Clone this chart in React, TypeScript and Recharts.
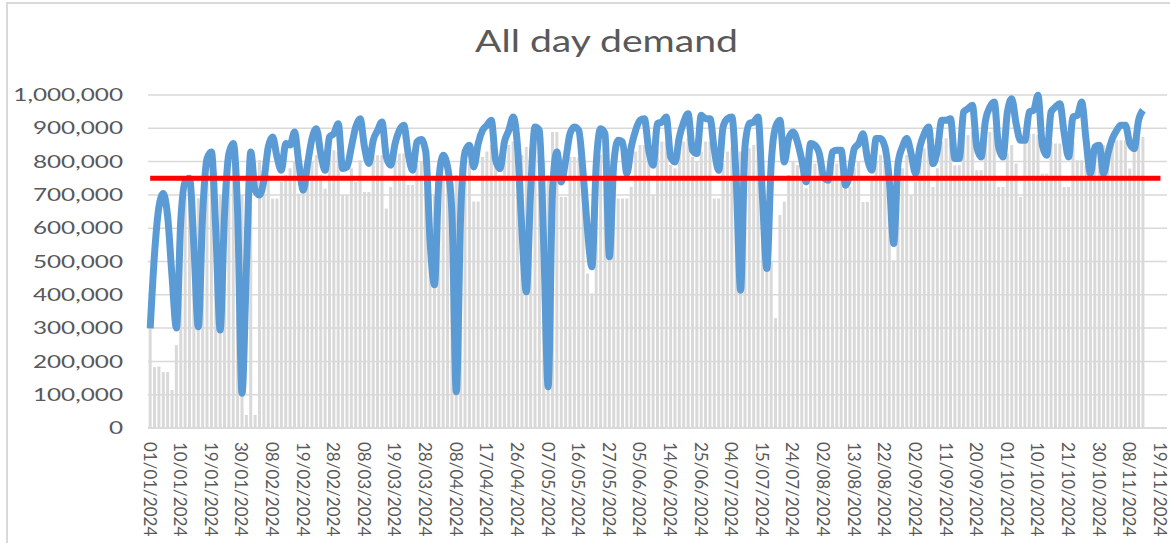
import { ComposedChart, Bar, Line, XAxis, YAxis, CartesianGrid, ReferenceLine } from 'recharts'

// daily totals (weekdays only), 01/01/2024 -> 13/11/2024
const allDayDemand = [
  299000, 524000, 664000, 704000, 634000, 454000, 300000, 624000, 740000, 750000,
  544000, 304000, 644000, 809000, 829000, 594000, 294000, 644000, 824000, 854000,
  644000, 104000, 480000, 829000, 714000, 700000, 744000, 844000, 874000, 814000,
  774000, 854000, 850000, 889000, 794000, 714000, 794000, 869000, 899000, 824000,
  774000, 874000, 884000, 914000, 779000, 784000, 844000, 904000, 929000, 844000,
  794000, 864000, 894000, 919000, 814000, 789000, 854000, 894000, 909000, 824000,
  774000, 859000, 866000, 830000, 560000, 430000, 744000, 819000, 784000, 644000,
  109000, 644000, 829000, 849000, 784000, 854000, 894000, 909000, 924000, 804000,
  779000, 859000, 894000, 934000, 844000, 594000, 409000, 714000, 904000, 894000,
  544000, 124000, 714000, 829000, 739000, 804000, 884000, 904000, 894000, 764000,
  594000, 484000, 794000, 899000, 884000, 514000, 794000, 864000, 859000, 764000,
  844000, 894000, 924000, 929000, 834000, 789000, 914000, 919000, 934000, 814000,
  799000, 874000, 919000, 944000, 834000, 824000, 939000, 929000, 929000, 834000,
  774000, 904000, 929000, 934000, 744000, 414000, 844000, 914000, 919000, 934000,
  694000, 479000, 794000, 904000, 924000, 799000, 869000, 889000, 859000, 804000,
  739000, 854000, 849000, 824000, 754000, 744000, 829000, 834000, 834000, 729000,
  764000, 839000, 854000, 884000, 809000, 774000, 869000, 869000, 844000, 744000,
  554000, 794000, 844000, 869000, 824000, 764000, 844000, 884000, 904000, 794000,
  834000, 924000, 924000, 929000, 809000, 809000, 949000, 959000, 969000, 844000,
  814000, 924000, 964000, 979000, 844000, 814000, 949000, 989000, 914000, 864000,
  864000, 949000, 954000, 999000, 849000, 819000, 949000, 964000, 974000, 884000,
  814000, 934000, 939000, 979000, 864000, 764000, 844000, 849000, 764000, 824000,
  869000, 894000, 909000, 909000, 854000, 839000, 924000, 954000,
]

const dayDemand = [
  300000, 183000, 185000, 168000, 168000, 114000, 249000, 650000, 700000, 720000,
  700000, 690000, 720000, 760000, 790000, 770000, 700000, 730000, 790000, 800000,
  760000, 700000, 39000, 669000, 39000, 804000, 740000, 760000, 689000, 689000,
  740000, 760000, 780000, 800000, 704000, 704000, 760000, 800000, 820000, 760000,
  719000, 834000, 834000, 830000, 699000, 699000, 780000, 739000, 804000, 709000,
  709000, 819000, 819000, 819000, 659000, 724000, 824000, 824000, 824000, 730000,
  730000, 790000, 800000, 780000, 699000, 699000, 720000, 760000, 760000, 740000,
  760000, 780000, 790000, 800000, 680000, 680000, 814000, 830000, 850000, 800000,
  760000, 820000, 850000, 860000, 800000, 820000, 844000, 844000, 860000, 840000,
  800000, 760000, 889000, 889000, 694000, 694000, 814000, 814000, 814000, 760000,
  464000, 404000, 700000, 820000, 800000, 540000, 700000, 689000, 689000, 689000,
  724000, 830000, 850000, 850000, 800000, 699000, 840000, 860000, 860000, 790000,
  780000, 830000, 860000, 870000, 814000, 800000, 830000, 860000, 860000, 689000,
  689000, 794000, 830000, 844000, 800000, 830000, 800000, 840000, 850000, 850000,
  700000, 504000, 500000, 330000, 640000, 680000, 760000, 800000, 790000, 780000,
  720000, 794000, 794000, 780000, 744000, 744000, 794000, 794000, 794000, 724000,
  724000, 780000, 800000, 679000, 679000, 744000, 800000, 820000, 800000, 720000,
  504000, 700000, 780000, 820000, 699000, 740000, 800000, 840000, 850000, 724000,
  780000, 860000, 870000, 860000, 789000, 789000, 870000, 880000, 890000, 774000,
  774000, 860000, 890000, 900000, 724000, 724000, 824000, 850000, 794000, 694000,
  869000, 884000, 884000, 880000, 764000, 764000, 859000, 854000, 854000, 724000,
  724000, 859000, 804000, 804000, 790000, 744000, 849000, 849000, 849000, 849000,
  864000, 864000, 864000, 864000, 779000, 874000, 874000, 874000,
]

const TARGET = 750000
const yTicks = [0, 100000, 200000, 300000, 400000, 500000, 600000, 700000, 800000, 900000, 1000000]
// the axis runs a few business days past the last value
const AXIS_DAYS = 233

function businessDays(count: number) {
  const out: string[] = []
  const d = new Date(2024, 0, 1)
  while (out.length < count) {
    const wd = d.getDay()
    if (wd !== 0 && wd !== 6) {
      const dd = String(d.getDate()).padStart(2, '0')
      const mm = String(d.getMonth() + 1).padStart(2, '0')
      out.push(`${dd}/${mm}/${d.getFullYear()}`)
    }
    d.setDate(d.getDate() + 1)
  }
  return out
}

const days = businessDays(AXIS_DAYS)

const rows = days.map((day, i) => ({
  day,
  allDay: i < allDayDemand.length ? allDayDemand[i] : null,
  dayOnly: i < dayDemand.length ? dayDemand[i] : null,
}))

const TEXT = '#595959'
const GRID = '#d9d9d9'

function ValueTick(props: any) {
  const { y, payload } = props
  return (
    <text
      transform={`translate(123 ${y}) scale(1.43 1)`}
      textAnchor="end"
      dy="0.36em"
      fontSize={17}
      fontFamily="Lato"
      fill={TEXT}
    >
      {Number(payload.value).toLocaleString('en-US')}
    </text>
  )
}

function DateTick(props: any) {
  const { x, payload } = props
  return (
    <g transform={`translate(${x - 0.5} 442)`}>
      <text transform="rotate(90)" dy="0.36em" textAnchor="start" fontSize={17} fontFamily="Lato" fill={TEXT}>
        {payload.value}
      </text>
    </g>
  )
}

export default function App() {
  return (
    <div style={{ position: 'fixed', left: 0, top: 0, width: 1170, height: 543, overflow: 'hidden', background: '#fff' }}>
      <div
        style={{
          position: 'absolute', left: 6, top: 2, width: 1200, height: 600,
          borderLeft: `2px solid ${GRID}`, borderTop: `2px solid ${GRID}`,
        }}
      />
      <svg width={1170} height={80} style={{ position: 'absolute', left: 0, top: 0 }}>
        <text x={606.5} y={52} textAnchor="middle" fontSize={30} fontFamily="Lato" fill={TEXT}
          textLength={263} lengthAdjust="spacingAndGlyphs">
          All day demand
        </text>
      </svg>
      <div style={{ position: 'absolute', left: 0, top: 0 }}>
        <ComposedChart
          width={1170}
          height={543}
          data={rows}
          margin={{ top: 95, right: 3, bottom: 0, left: 0 }}
          barCategoryGap="15%"
        >
          <CartesianGrid vertical={false} stroke={GRID} strokeWidth={1.5} />
          <XAxis
            dataKey="day"
            interval={6}
            height={115}
            tick={<DateTick />}
            tickLine={false}
            axisLine={{ stroke: GRID, strokeWidth: 1.5 }}
          />
          <YAxis
            width={148}
            domain={[0, 1000000]}
            ticks={yTicks}
            tick={<ValueTick />}
            axisLine={false}
            tickLine={false}
          />
          <Bar dataKey="dayOnly" fill="#d9d9d9" isAnimationActive={false} />
          <Line
            dataKey="allDay"
            type="monotone"
            stroke="#5b9bd5"
            strokeWidth={7}
            strokeLinejoin="round"
            dot={false}
            isAnimationActive={false}
          />
          <ReferenceLine
            segment={[{ x: days[0], y: TARGET }, { x: days[231], y: TARGET }]}
            stroke="#ff0000"
            strokeWidth={5}
          />
        </ComposedChart>
      </div>
    </div>
  )
}
